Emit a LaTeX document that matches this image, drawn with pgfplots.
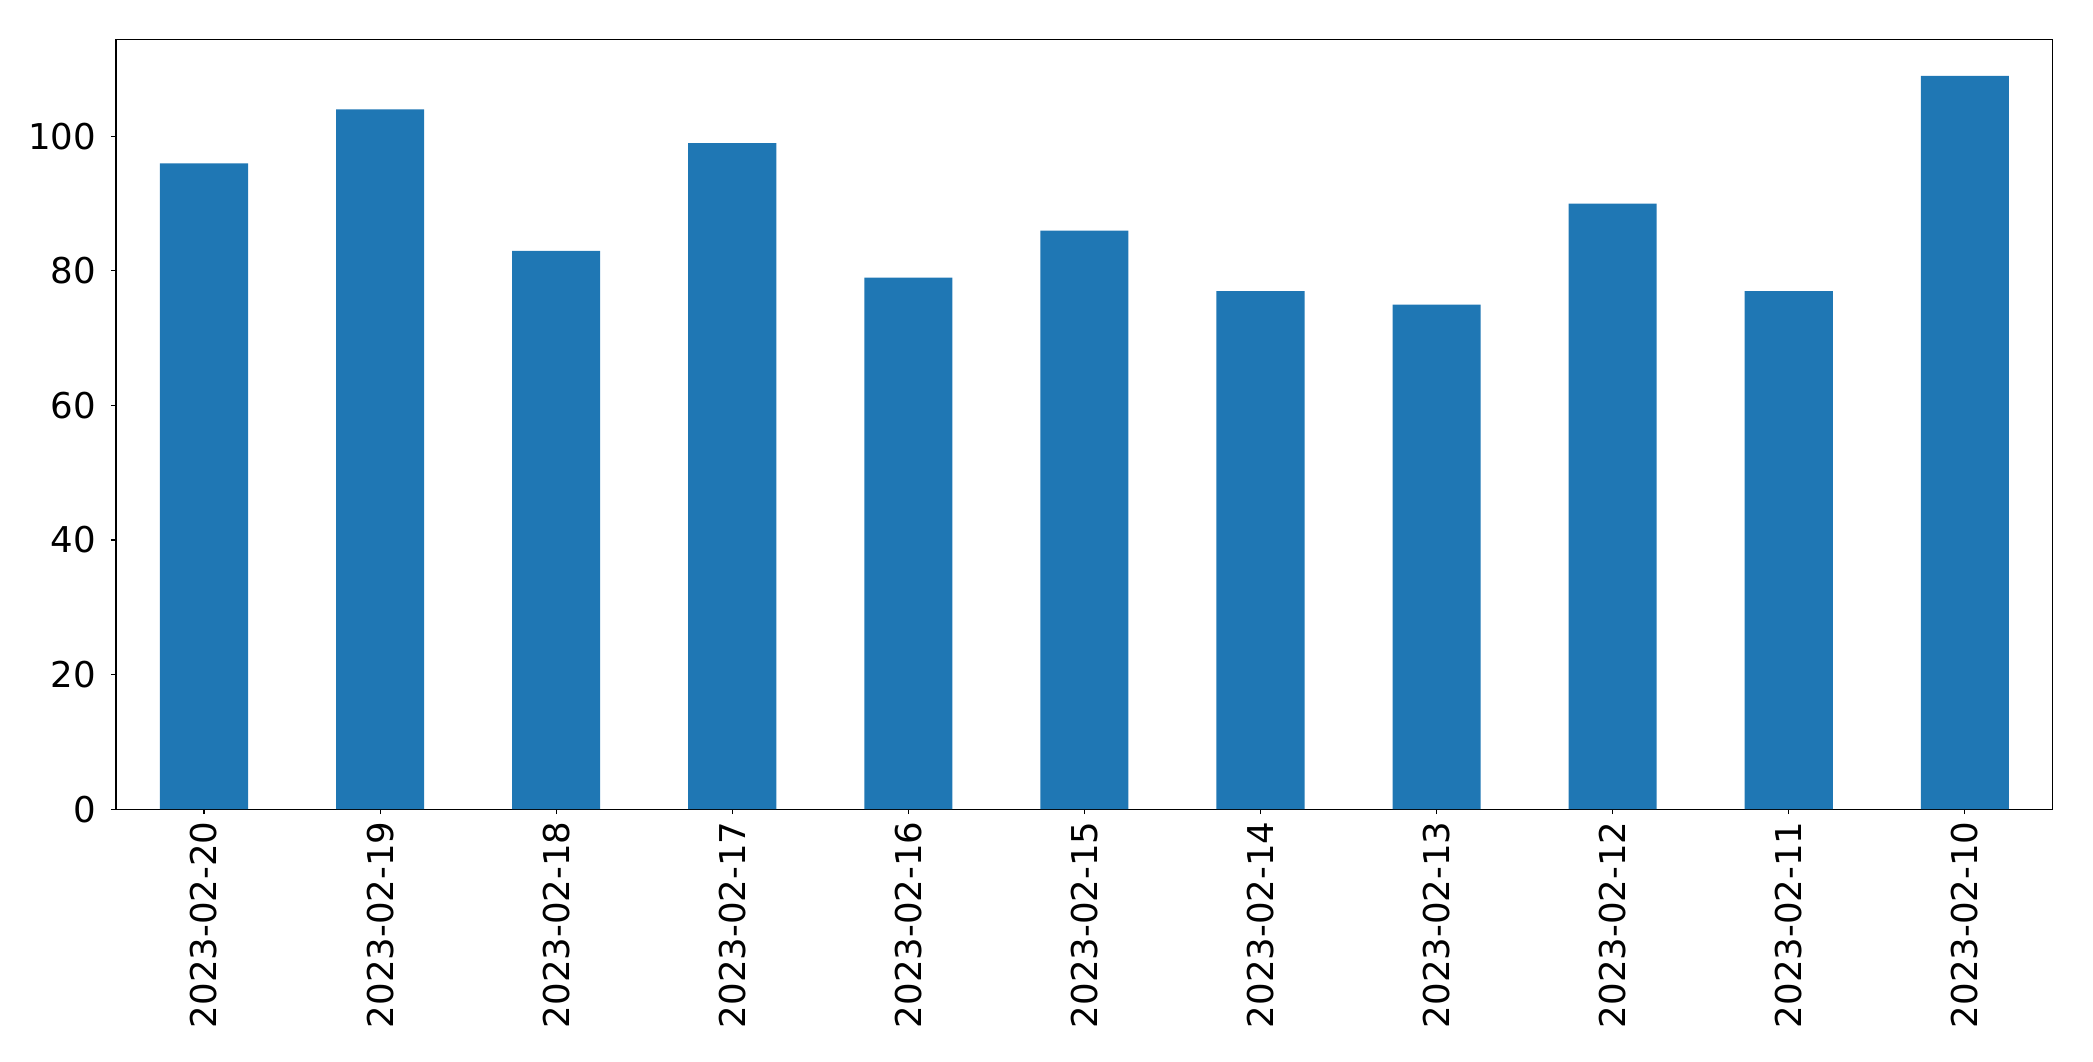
\documentclass[border=0pt]{standalone}
\usepackage{fontspec}
\setmainfont{DejaVu Sans}
\usepackage{pgfplots}
\pgfplotsset{compat=1.18}
\definecolor{barblue}{HTML}{1F77B4}

\begin{document}
\fontsize{25.6}{30}\selectfont
\begin{tikzpicture}
  \begin{axis}[
    at={(83.5pt,181.4pt)}, anchor=south west,
    width=1394.6pt, height=554.4pt, scale only axis,
    xmin=-0.5, xmax=10.5, ymin=0, ymax=114.45,
    xtick=data,
    xticklabels={2023-02-20,2023-02-19,2023-02-18,2023-02-17,2023-02-16,2023-02-15,2023-02-14,2023-02-13,2023-02-12,2023-02-11,2023-02-10},
    x tick label style={rotate=90, anchor=east},
    ytick={0,20,40,60,80,100},
    tick align=outside, tick pos=left,
    major tick length=3.6pt,
    axis line style={line width=0.8pt},
    tick style={line width=0.8pt, black},
    /pgf/number format/assume math mode=true,
    tick label style={font=\fontsize{25.6}{30}\selectfont},
    xticklabel shift=-3.5pt, yticklabel shift=2pt,
  ]
    \addplot[ybar, bar width=0.5, fill=barblue, draw=none, bar shift=0pt]
      coordinates {(0,96)(1,104)(2,83)(3,99)(4,79)(5,86)(6,77)(7,75)(8,90)(9,77)(10,109)};
  \end{axis}
  \pgfresetboundingbox
  \useasboundingbox (0,0) rectangle (1507pt,764pt);
\end{tikzpicture}
\end{document}
